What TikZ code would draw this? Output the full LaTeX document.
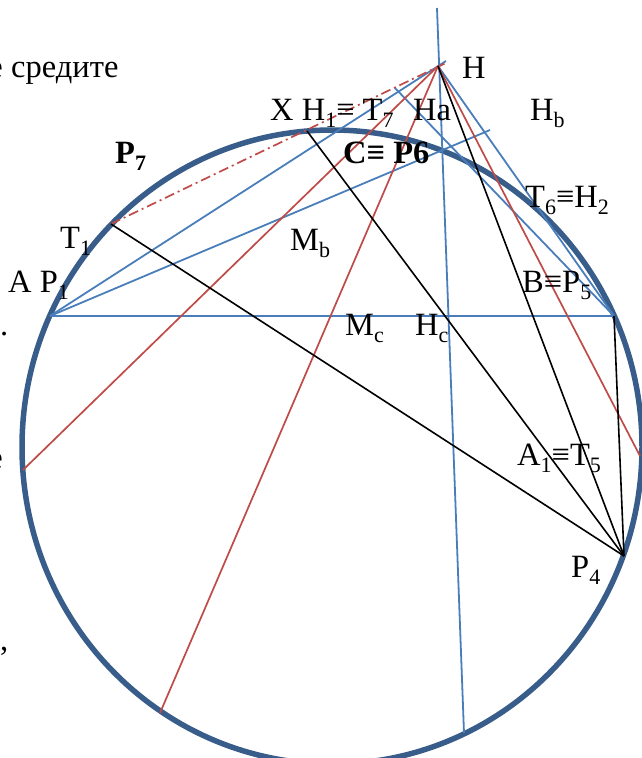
\documentclass[tikz,border=0pt]{standalone}
\usepackage{fontspec}
\setmainfont{Liberation Serif}
\definecolor{circblue}{HTML}{385D8A}
\definecolor{lineblue}{HTML}{4A7EBB}
\definecolor{linered}{HTML}{BE4B48}
\newcommand\sbs[1]{\raisebox{-0.22em}{\fontsize{22}{22}\selectfont #1}}
\begin{document}
\begin{tikzpicture}[x=1pt,y=-1pt,
  circ/.style={draw=circblue, line width=5.5pt},
  bl/.style={draw=lineblue, line width=1.8pt},
  rd/.style={draw=linered, line width=1.7pt},
  dd/.style={rd, dash pattern=on 10pt off 4pt on 2pt off 4pt},
  bk/.style={draw=black, line width=1.6pt},
  lbl/.style={anchor=base west, inner sep=0pt, font=\fontsize{32.5}{36}\selectfont},
  lble/.style={anchor=base east, inner sep=0pt, font=\fontsize{32.5}{36}\selectfont}]
\useasboundingbox (0,0) rectangle (641,758);
% points
\coordinate (A) at (50,316);
\coordinate (B) at (614,316);
\coordinate (H) at (438,66);
\coordinate (Hx) at (446,61);
\coordinate (T1) at (111,224);
\coordinate (X) at (307,131);
\coordinate (P4) at (624,556);
\coordinate (R1) at (23,470);
\coordinate (R2) at (160,713);
\coordinate (R3) at (640,456);
\coordinate (Vt) at (437,8);
\coordinate (Vb) at (464,733);
\coordinate (Q) at (490,130);
\coordinate (S) at (395,88);
\coordinate (D) at (448,62);
% circle
\draw[circ] (332,447) ellipse [x radius=310pt, y radius=317pt];
% blue lines
\draw[bl] (A) -- (B);
\draw[bl] (A) -- (Hx);
\draw[bl] (A) -- (Q);
\draw[bl] (H) -- (B);
\draw[bl] (S) -- (B);
\draw[bl] (Vt) -- (Vb);
% red lines
\draw[dd] (T1) -- (D);
\draw[rd] (R1) -- (H);
\draw[rd] (R2) -- (H);
\draw[rd] (H) -- (R3);
% black lines
\draw[bk] (T1) -- (P4);
\draw[bk] (X) -- (P4);
\draw[bk] (H) -- (P4);
\draw[bk] (B) -- (P4);
% labels
\node[lble] (f0) at (3,77) {е};
\node[lbl] (t0) at (11,77) {средите};
\node[lbl] (f1) at (0,335) {.};
\node[lble] (f2) at (3,468) {е};
\node[lbl] (f3) at (0,650) {,};
\node[lbl] (p7) at (115,163) {\bfseries P\sbs{7}};
\node[lbl] (xh) at (270,120) {X H\sbs{1}≡ T\sbs{7}};
\node[lbl] (ha) at (413,120) {Ha};
\node[lbl] (hh) at (462,78) {H};
\node[lbl] (hb) at (530,120) {H\sbs{b}};
\node[lbl] (cp) at (343,163) {\bfseries C≡ P6};
\node[lbl] (t6) at (525,207) {T\sbs{6}≡H\sbs{2}};
\node[lbl] (t1) at (60,248) {T\sbs{1}};
\node[lbl] (mb) at (290,250) {M\sbs{b}};
\node[lbl] (ap) at (8,292) {A P\sbs{1}};
\node[lbl] (bp) at (522,292) {B≡P\sbs{5}};
\node[lbl] (mc) at (345,335) {M\sbs{c}};
\node[lbl] (hc) at (415,335) {H\sbs{c}};
\node[lbl] (a1) at (517,465) {A\sbs{1}≡T\sbs{5}};
\node[lbl] (p4) at (571,577) {P\sbs{4}};
\end{tikzpicture}
\end{document}
